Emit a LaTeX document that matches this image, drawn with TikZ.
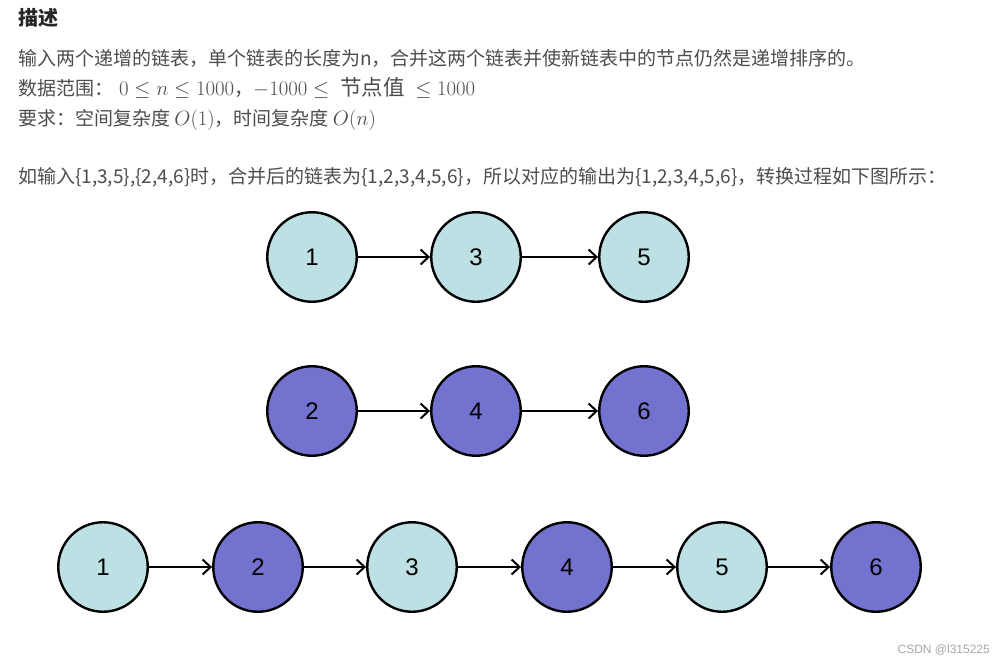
\documentclass[tikz,border=0pt]{standalone}
\usepackage{fontspec}
\newfontfamily\cjk{Noto Sans CJK SC}
\newfontfamily\arialf{Liberation Sans}
\usetikzlibrary{arrows.meta}
\definecolor{lcyan}{RGB}{188,224,227}
\definecolor{lpurp}{RGB}{116,114,207}
\definecolor{txt}{RGB}{77,77,77}
\newcommand{\mth}[1]{{\fontsize{22}{24}\selectfont$#1$}}
\newcommand{\mtx}[1]{{\fontsize{21.5}{24}\selectfont #1}}
\tikzset{
  lnode/.style={circle,draw=black,line width=2.4pt,minimum size=89.5pt,inner sep=0pt,font=\arialf\fontsize{24}{28}\selectfont},
  cy/.style={lnode,fill=lcyan},
  pu/.style={lnode,fill=lpurp},
  link/.style={-{Straight Barb[length=8pt,width=15pt,line width=2pt]},line width=2pt,black},
  bodytxt/.style={anchor=base west,inner sep=0pt,text=txt,font=\cjk\fontsize{19}{22}\selectfont},
}
\begin{document}
\begin{tikzpicture}[x=1pt,y=-1pt]
\useasboundingbox (0,0) rectangle (1006,664);
\fill[white] (0,0) rectangle (1006,664);
\node[anchor=base west,inner sep=0pt,text=black!85,font=\cjk\bfseries\fontsize{20}{24}\selectfont] (title) at (18,25) {描述};
\node[bodytxt] (l1) at (18,65) {输入两个递增的链表，单个链表的长度为n，合并这两个链表并使新链表中的节点仍然是递增排序的。};
\node[bodytxt] (l2) at (18,95) {数据范围：\hspace{6pt}\mth{0\le n\le 1000}，\mth{-1000\le{}}\hspace{5pt}\mtx{节点值}\hspace{5pt}\mth{{}\le 1000}};
\node[bodytxt] (l3) at (18,125) {要求：空间复杂度 \mth{O(1)}，时间复杂度 \mth{O(n)}};
\node[bodytxt] (l4) at (18,183) {如输入\{1,3,5\},\{2,4,6\}时，合并后的链表为\{1,2,3,4,5,6\}，所以对应的输出为\{1,2,3,4,5,6\}，转换过程如下图所示：};
% top row
\node[cy] (a1) at (312,257) {1};
\node[cy] (a3) at (476,257) {3};
\node[cy] (a5) at (644,257) {5};
\draw[link] (a1) -- (a3);
\draw[link] (a3) -- (a5);
% middle row
\node[pu] (b2) at (312,411) {2};
\node[pu] (b4) at (476,411) {4};
\node[pu] (b6) at (644,411) {6};
\draw[link] (b2) -- (b4);
\draw[link] (b4) -- (b6);
% bottom row
\node[cy] (c1) at (103,567) {1};
\node[pu] (c2) at (258,567) {2};
\node[cy] (c3) at (412,567) {3};
\node[pu] (c4) at (567,567) {4};
\node[cy] (c5) at (722,567) {5};
\node[pu] (c6) at (876,567) {6};
\draw[link] (c1) -- (c2);
\draw[link] (c2) -- (c3);
\draw[link] (c3) -- (c4);
\draw[link] (c4) -- (c5);
\draw[link] (c5) -- (c6);
\node[anchor=base east,inner sep=0pt,text=black!35,font=\arialf\fontsize{12}{14}\selectfont] (wm) at (990,653) {CSDN @l315225};
\end{tikzpicture}
\end{document}
